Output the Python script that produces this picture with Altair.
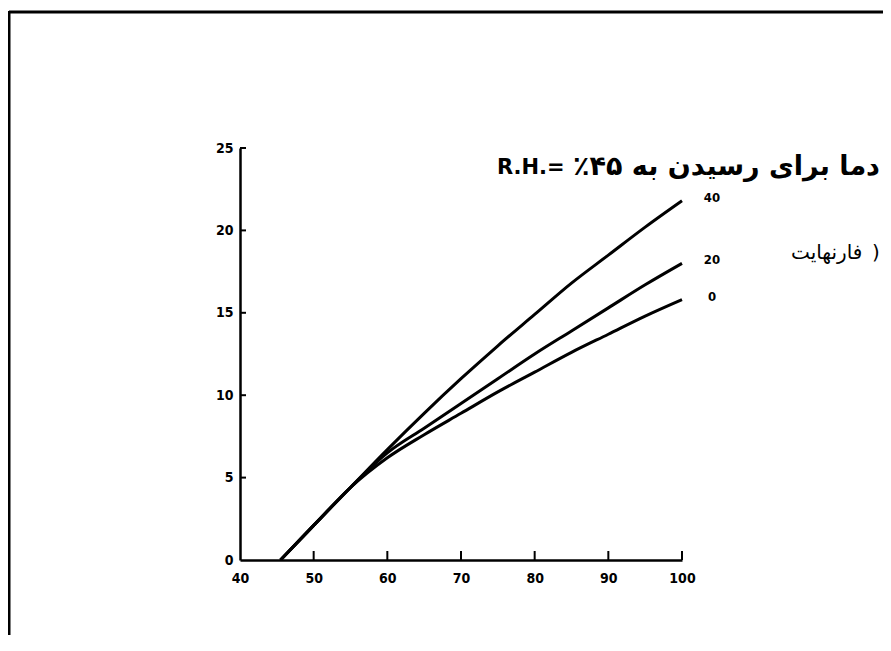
import altair as alt
import pandas as pd

# ---- data ----
temp_f = [45.5, 50, 55, 60, 65, 70, 75, 80, 85, 90, 95, 100]
curve_40 = [0, 2.1, 4.4, 6.7, 8.9, 11.0, 13.0, 14.9, 16.8, 18.5, 20.2, 21.8]
curve_20 = [0, 2.1, 4.4, 6.5, 8.0, 9.5, 11.0, 12.5, 13.9, 15.3, 16.7, 18.0]
curve_0 = [0, 2.1, 4.4, 6.2, 7.6, 8.9, 10.2, 11.4, 12.6, 13.7, 14.8, 15.8]
series_names = ["40", "20", "0"]

x_ticks = [40, 50, 60, 70, 80, 90, 100]
y_ticks = [0, 5, 10, 15, 20, 25]

title_latin = "R.H.="
title_persian = "دما برای رسیدن به ۴۵٪\u200f"
subtitle_word = "فارنهایت"
subtitle_paren = ")"

# ---- build tables ----
rows = []
for name, vals in zip(series_names, [curve_40, curve_20, curve_0]):
    for xv, yv in zip(temp_f, vals):
        rows.append({"series": name, "x": xv, "y": yv})
df = pd.DataFrame(rows)
ends = pd.DataFrame({
    "series": series_names,
    "x": [temp_f[-1]] * 3,
    "y": [curve_40[-1], curve_20[-1], curve_0[-1]],
})
xt = pd.DataFrame({"x": x_ticks[1:]})
yt = pd.DataFrame({"y": y_ticks[1:]})

W, H = 442, 412
FONT = "DejaVu Sans Condensed, DejaVu Sans"

xscale = alt.Scale(domain=[40, 100], nice=False)
yscale = alt.Scale(domain=[0, 25], nice=False)

x_axis = alt.Axis(values=x_ticks, ticks=False, grid=False, title=None,
                  domainColor="black", domainWidth=2.5, labelColor="black",
                  labelFont=FONT, labelFontSize=14, labelFontWeight="bold",
                  labelPadding=11, labelFlush=False)
y_axis = alt.Axis(values=y_ticks, ticks=False, grid=False, title=None,
                  domainColor="black", domainWidth=2.5, labelColor="black",
                  labelFont=FONT, labelFontSize=14, labelFontWeight="bold",
                  labelPadding=7, labelFlush=False)

lines = alt.Chart(df).mark_line(color="black", strokeWidth=3, interpolate="monotone").encode(
    x=alt.X("x:Q", scale=xscale, axis=x_axis),
    y=alt.Y("y:Q", scale=yscale, axis=y_axis),
    detail="series:N",
)

xtick_marks = alt.Chart(xt).mark_rule(color="black", strokeWidth=2).encode(
    x=alt.X("x:Q", scale=xscale),
    y=alt.value(H),
    y2=alt.value(H - 9),
)
ytick_marks = alt.Chart(yt).mark_rule(color="black", strokeWidth=2).encode(
    y=alt.Y("y:Q", scale=yscale),
    x=alt.value(0),
    x2=alt.value(6),
)

end_labels = alt.Chart(ends).mark_text(
    font=FONT, fontSize=13, fontWeight="bold", color="black",
    align="center", dx=30, dy=-3,
).encode(
    x=alt.X("x:Q", scale=xscale),
    y=alt.Y("y:Q", scale=yscale),
    text="series:N",
)

title_a = alt.Chart(pd.DataFrame({"t": [title_latin]})).mark_text(
    font="DejaVu Sans", fontSize=21, fontWeight="bold", color="black",
    align="left", baseline="alphabetic",
).encode(x=alt.value(257), y=alt.value(26), text="t:N")

title_b = alt.Chart(pd.DataFrame({"t": [title_persian]})).mark_text(
    font="DejaVu Sans", fontSize=27, fontWeight="bold", color="black",
    align="left", baseline="alphabetic",
).encode(x=alt.value(333), y=alt.value(27), text="t:N")

sub_word = alt.Chart(pd.DataFrame({"t": [subtitle_word]})).mark_text(
    font="DejaVu Sans", fontSize=20, color="black",
    align="left", baseline="middle",
).encode(x=alt.value(551), y=alt.value(105), text="t:N")

sub_paren = alt.Chart(pd.DataFrame({"t": [subtitle_paren]})).mark_text(
    font="DejaVu Sans", fontSize=20, color="black",
    align="left", baseline="middle",
).encode(x=alt.value(632), y=alt.value(105), text="t:N")

frame_top = alt.Chart(pd.DataFrame({"a": [0]})).mark_rule(color="black", strokeWidth=3).encode(
    x=alt.value(-231), x2=alt.value(660), y=alt.value(-136))
frame_left = alt.Chart(pd.DataFrame({"a": [0]})).mark_rule(color="black", strokeWidth=3).encode(
    x=alt.value(-231), y=alt.value(-137), y2=alt.value(500))

chart = alt.layer(
    frame_top, frame_left, lines, xtick_marks, ytick_marks, end_labels,
    title_a, title_b, sub_word, sub_paren
).properties(
    width=W, height=H,
    autosize=alt.AutoSizeParams(type="none"),
    padding={"left": 232, "top": 140, "right": 201, "bottom": 75},
    background="white",
).configure_view(stroke=None)

chart.save("out.html", embed_options={"renderer": "svg", "actions": False})
